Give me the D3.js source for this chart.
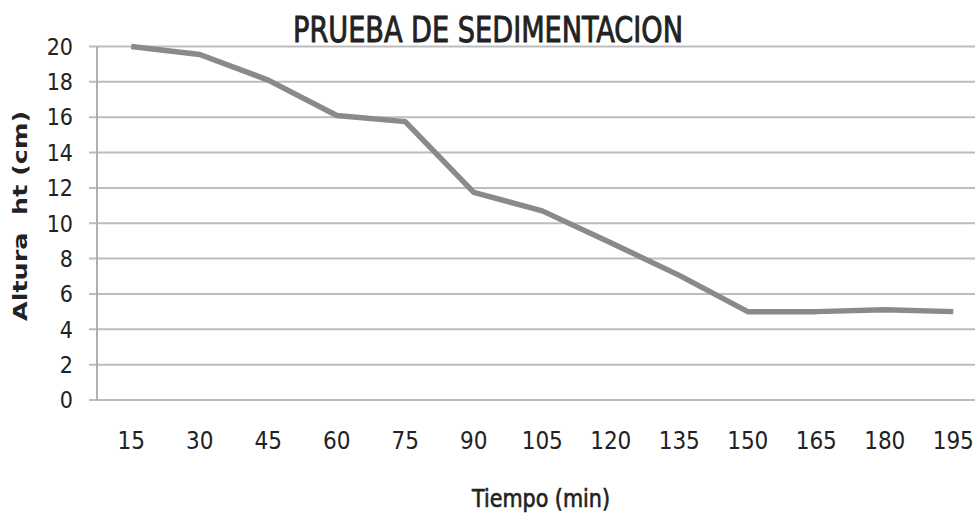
<!DOCTYPE html>
<html><head><meta charset="utf-8">
<script src="https://cdn.jsdelivr.net/npm/d3@7"></script>
<style>body{margin:0;background:#fff}svg{display:block}</style>
</head><body>
<svg id="c" width="975" height="516"></svg>
<script>
const categories = ["15","30","45","60","75","90","105","120","135","150","165","180","195"];
const alturas = [20, 19.55, 18.1, 16.1, 15.75, 11.75, 10.7, 8.9, 7.05, 5.0, 5.0, 5.1, 5.0];
const yTicks = [0,2,4,6,8,10,12,14,16,18,20];
const title = "PRUEBA DE SEDIMENTACION";
const xTitle = "Tiempo (min)";
const yTitle = "Altura  ht (cm)";

(function(){
const svg = d3.select("#c");
const pLeft = 97, pTop = 46.5, pBottom = 400, bandW = 68.5;
const x = d3.scaleBand().domain(categories).range([pLeft, pLeft + bandW*categories.length]).padding(0);
const y = d3.scaleLinear().domain([0,20]).range([pBottom, pTop]);
const narrow = "'Liberation Sans Narrow','DejaVu Sans Condensed',sans-serif";

svg.append("g").selectAll("line").data(yTicks).join("line")
  .attr("x1", 89).attr("x2", 975)
  .attr("y1", d=>y(d)).attr("y2", d=>y(d))
  .attr("stroke", "#bdbdbd").attr("stroke-width", 2);
svg.append("line").attr("x1", pLeft).attr("x2", pLeft).attr("y1", pTop).attr("y2", pBottom)
  .attr("stroke", "#b0b0b0").attr("stroke-width", 2);

svg.append("g").selectAll("text").data(yTicks).join("text")
  .attr("x", 73).attr("y", d=>y(d)).attr("dy", "0.36em")
  .attr("text-anchor","end").attr("font-family", narrow).attr("font-size", 23)
  .attr("fill","#222").text(d=>d);

svg.append("g").selectAll("text").data(categories).join("text")
  .attr("x", d=>x(d)+x.bandwidth()/2).attr("y", 440).attr("dy","0.36em")
  .attr("text-anchor","middle").attr("font-family", narrow).attr("font-size", 24)
  .attr("fill","#222").text(d=>d);

const line = d3.line().x((d,i)=>x(categories[i])+x.bandwidth()/2).y(d=>y(d));
svg.append("path").datum(alturas).attr("d", line)
  .attr("fill","none").attr("stroke","#8a8a8a").attr("stroke-width",5.5)
  .attr("stroke-linejoin","round");

svg.append("text").attr("x", 488).attr("y", 42).attr("text-anchor","middle")
  .attr("font-family", narrow).attr("font-size", 36)
  .attr("fill","#222").attr("stroke","#222").attr("stroke-width",0.9)
  .attr("textLength", 390).attr("lengthAdjust","spacingAndGlyphs").text(title);

svg.append("text").attr("x", 541).attr("y", 507).attr("text-anchor","middle")
  .attr("font-family", narrow).attr("font-size", 24)
  .attr("fill","#222").attr("stroke","#222").attr("stroke-width",0.6)
  .attr("textLength", 138).attr("lengthAdjust","spacingAndGlyphs").text(xTitle);

svg.append("text").attr("transform","translate(27,216) rotate(-90)").attr("text-anchor","middle")
  .attr("font-family","'DejaVu Sans',sans-serif").attr("font-size", 20).attr("font-weight","bold")
  .attr("fill","#222").attr("textLength", 210).attr("lengthAdjust","spacingAndGlyphs")
  .style("white-space","pre").text(yTitle);
})();
</script>
</body></html>
